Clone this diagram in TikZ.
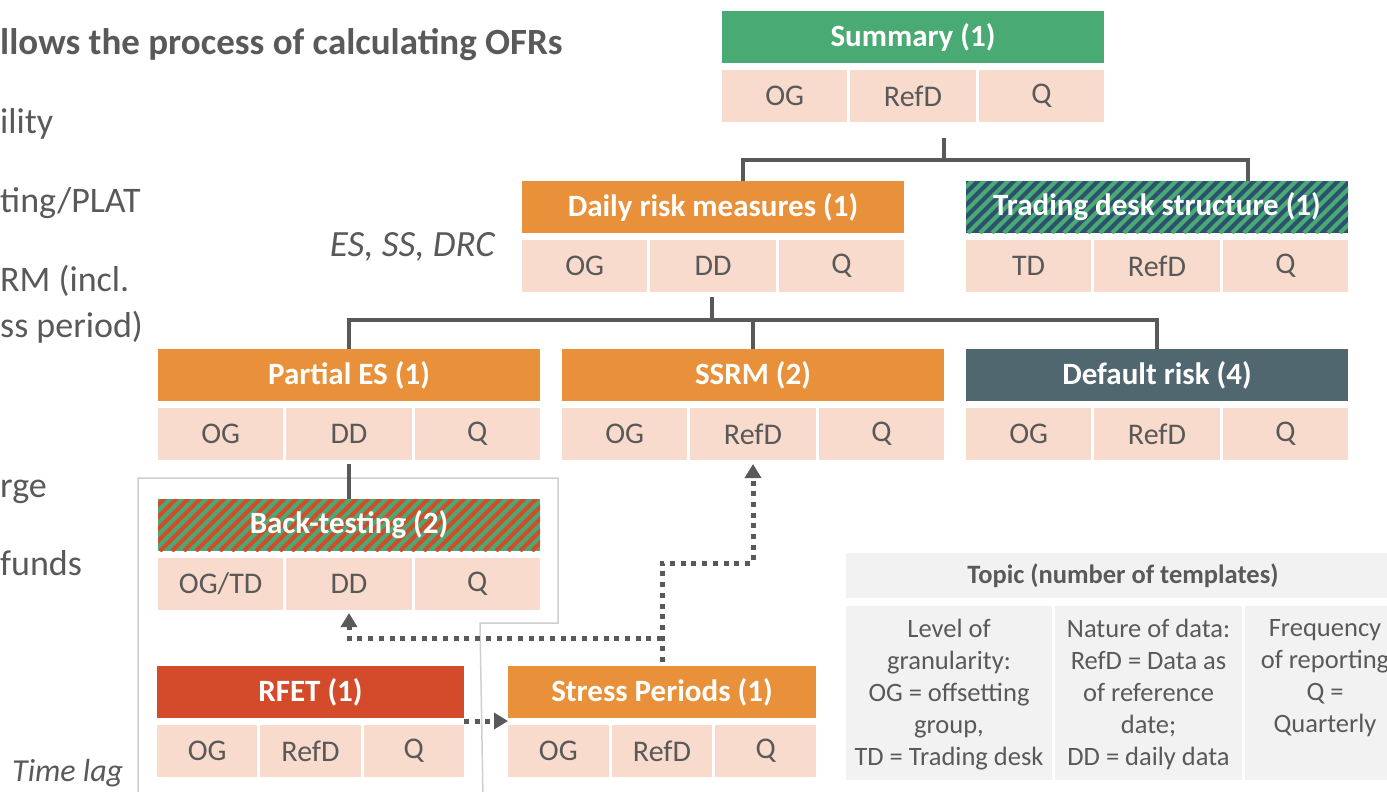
\documentclass[tikz,border=0pt]{standalone}
\usepackage{fontspec}
\setmainfont{Carlito}
\usetikzlibrary{arrows.meta,calc}

\definecolor{hgreen}{HTML}{4AAA73}
\definecolor{horange}{HTML}{E9913A}
\definecolor{hred}{HTML}{D34B2A}
\definecolor{hslate}{HTML}{51676F}
\definecolor{hnavy}{HTML}{2E5170}
\definecolor{cellpink}{HTML}{F8DBCC}
\definecolor{txtgray}{HTML}{595959}
\definecolor{linegray}{HTML}{595959}
\definecolor{lggray}{HTML}{F2F2F2}
\definecolor{framegray}{HTML}{CFCFCF}

\tikzset{
  hdr/.style={minimum height=52pt, inner sep=0pt, outer sep=0pt, text=white,
    font=\fontsize{31}{37}\selectfont\bfseries},
  cell/.style={fill=cellpink, minimum height=52pt, inner sep=0pt, outer sep=0pt,
    text=txtgray, font=\fontsize{30}{36}\selectfont},
  stripes/.style={path picture={%
    \foreach \k in {0,...,38}{%
      \draw[#1, line width=4pt]
        ([xshift={\k*12pt-70pt}]path picture bounding box.south west) -- ++(90pt,90pt);}}},
  conn/.style={draw=linegray, line width=4pt},
  dotarrow/.style={draw=linegray, line width=5pt, dash pattern=on 5pt off 5.7pt,
    -{Triangle[length=14pt,width=16pt]}},
  sidetxt/.style={inner sep=0pt, text=txtgray, font=\fontsize{36}{43}\selectfont},
  lgbox/.style={fill=lggray, inner sep=0pt, outer sep=0pt},
  lgtxt/.style={inner sep=0pt, text=txtgray, align=center,
    font=\fontsize{26.5}{32}\selectfont},
}

% template block: name, left, top, width, header style, title, three cells
\newcommand\tmpl[9]{%
  \pgfmathsetmacro\cw{(#4-6)/3}%
  \node[hdr,#5,minimum width=#4pt] (#1) at ({#2+#4/2},{#3+27}) {#6};
  \node[cell,minimum width=\cw pt] (#1-a) at ({#2+\cw/2},{#3+86}) {#7};
  \node[cell,minimum width=\cw pt] (#1-b) at ({#2+#4/2},{#3+86}) {#8};
  \node[cell,minimum width=\cw pt] (#1-c) at ({#2+#4-\cw/2},{#3+86}) {#9};
}

\begin{document}
\begin{tikzpicture}[x=1pt,y=-1pt]
\useasboundingbox (0,0) rectangle (1387,792);
\clip (0,0) rectangle (1387,792);

% text running in from the left
\node[sidetxt,anchor=base west,font=\fontsize{37}{44}\selectfont\bfseries] (s0) at (0,55)
  {llows the process of calculating OFRs};
\node[sidetxt,anchor=base west] (s1) at (0,133) {ility};
\node[sidetxt,anchor=base west] (s2) at (0,212) {ting/PLAT};
\node[sidetxt,anchor=base west] (s3) at (0,291) {RM (incl.};
\node[sidetxt,anchor=base west] (s4) at (0,337) {ss period)};
\node[sidetxt,anchor=base west] (s5) at (0,497) {rge};
\node[sidetxt,anchor=base west] (s6) at (0,575) {funds};
\node[sidetxt,anchor=base west,font=\fontsize{32}{38}\selectfont\itshape] (s7) at (12,781) {Time lag};
\node[sidetxt,anchor=base east,font=\fontsize{37}{44}\selectfont\itshape] (esd) at (495,256) {ES, SS, DRC};

% outline around back-testing and RFET
\draw[framegray, line width=1.5pt] (138,800) -- (138,478) -- (558,478) -- (558,623)
  -- (480,623) -- (483,800);

% template blocks
\tmpl{sum}{722}{10}{382}{fill=hgreen}{Summary (1)}{OG}{RefD}{Q}
\tmpl{daily}{522}{180}{382}{fill=horange}{Daily risk measures (1)}{OG}{DD}{Q}
\tmpl{trading}{966}{180}{382}{fill=hnavy,stripes=hgreen}{Trading desk structure (1)}{TD}{RefD}{Q}
\tmpl{pes}{158}{348}{382}{fill=horange}{Partial ES (1)}{OG}{DD}{Q}
\tmpl{ssrm}{562}{348}{382}{fill=horange}{SSRM (2)}{OG}{RefD}{Q}
\tmpl{default}{966}{348}{382}{fill=hslate}{Default risk (4)}{OG}{RefD}{Q}
\tmpl{bt}{158}{498}{382}{fill=hgreen,stripes=hred}{Back-testing (2)}{OG/TD}{DD}{Q}
\tmpl{rfet}{157}{665}{307}{fill=hred}{RFET (1)}{OG}{RefD}{Q}
\tmpl{sp}{508}{665}{308}{fill=horange}{Stress Periods (1)}{OG}{RefD}{Q}

% hierarchy connectors
\coordinate (j1) at (944,160);
\draw[conn] (j1 |- sum-b.south) ++(0,-16pt) -- (j1);
\draw[conn] ([xshift=30pt]daily.north) |- (j1) -| ([xshift=91pt]trading.north);

\coordinate (j2) at (712,320);
\draw[conn] (j2 |- daily-b.south) ++(0,-5pt) -- (j2);
\draw[conn] (pes.north) |- (j2) -| (default.north);
\draw[conn] (j2 -| ssrm.north) -- (ssrm.north);

\draw[conn] ([yshift=-4pt]pes-b.south) -- (bt.north);

% data flows
\coordinate (k1) at (0,563);
\coordinate (k2) at (0,638);
\draw[dotarrow] ([yshift=4pt]sp.north) |- (k1 -| ssrm-b.south) -- ([yshift=-4pt]ssrm-b.south);
\draw[dotarrow] (k2 -| sp.north) -| ([yshift=-3pt]bt-b.south);
\draw[dotarrow] ([yshift=-3pt]rfet.south east) -- ([yshift=-3pt]sp.south west);

% legend
\node[lgbox, anchor=north west, minimum width=554pt, minimum height=45pt,
  text=txtgray, font=\fontsize{26.5}{32}\selectfont\bfseries] (lg-t) at (846,553)
  {Topic (number of templates)};
\node[lgbox, anchor=north west, minimum width=206pt, minimum height=174pt] (lg-a) at (846,606) {};
\node[lgbox, anchor=north west, minimum width=187pt, minimum height=174pt] (lg-b) at (1055,606) {};
\node[lgbox, anchor=north west, minimum width=160pt, minimum height=174pt] (lg-c) at (1245,606) {};
\node[lgtxt, anchor=north] (lg-at) at ([yshift=-13pt]lg-a.north)
  {Level of\\granularity:\\OG = offsetting\\group,\\TD = Trading desk};
\node[lgtxt, anchor=north] (lg-bt) at ([yshift=-13pt]lg-b.north)
  {Nature of data:\\RefD = Data as\\of reference\\date;\\DD = daily data};
\node[lgtxt, anchor=north] (lg-ct) at ([yshift=-13pt]lg-c.north)
  {Frequency\\of reporting\\Q =\\Quarterly};
\end{tikzpicture}
\end{document}
